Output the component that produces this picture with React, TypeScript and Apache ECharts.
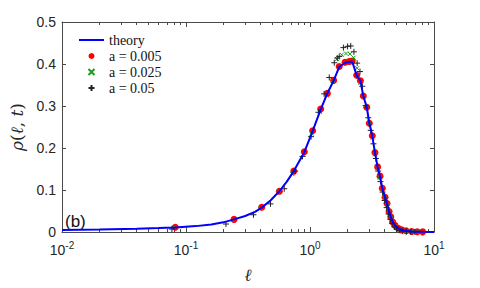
import React, { useEffect, useRef } from "react";
import * as echarts from "echarts";

const theoryL = [0.01, 0.02, 0.04, 0.06, 0.082, 0.12, 0.16, 0.2, 0.244, 0.3, 0.36, 0.408, 0.48, 0.566, 0.65, 0.74, 0.9, 1.05, 1.22, 1.38, 1.55, 1.72, 1.92, 2.07, 2.19, 2.38, 2.55, 2.69, 2.87, 3.01, 3.18, 3.34, 3.51, 3.67, 3.83, 4.03, 4.18, 4.34, 4.48, 4.64, 4.84, 5.15, 5.49, 5.95, 6.6, 7.3, 8.1, 10];
const theoryRho = [0.005, 0.006, 0.008, 0.0095, 0.011, 0.014, 0.018, 0.023, 0.03, 0.038, 0.048, 0.058, 0.075, 0.097, 0.12, 0.145, 0.19, 0.24, 0.292, 0.33, 0.36, 0.393, 0.403, 0.405, 0.406, 0.373, 0.36, 0.324, 0.297, 0.259, 0.229, 0.189, 0.155, 0.133, 0.104, 0.083, 0.068, 0.049, 0.036, 0.024, 0.016, 0.009, 0.005, 0.003, 0.001, 0.0007, 0.0003, 0];

const redL = [0.082, 0.244, 0.408, 0.566, 0.74, 0.9, 1.05, 1.22, 1.38, 1.55, 1.72, 1.92, 2.07, 2.19, 2.38, 2.55, 2.69, 2.87, 3.01, 3.18, 3.34, 3.51, 3.67, 3.83, 4.03, 4.18, 4.34, 4.48, 4.64, 4.84, 5.15, 5.49, 5.95, 6.61, 7.33, 8.11];
const redRho = [0.0115, 0.03, 0.059, 0.097, 0.145, 0.191, 0.241, 0.293, 0.33, 0.361, 0.394, 0.404, 0.406, 0.407, 0.373, 0.36, 0.324, 0.297, 0.259, 0.229, 0.189, 0.155, 0.133, 0.104, 0.0825, 0.068, 0.049, 0.036, 0.024, 0.016, 0.009, 0.005, 0.003, 0.001, 0.0007, 0.0003];

const greenL = [0.08, 0.24, 0.4, 0.56, 0.72, 0.88, 1.03, 1.2, 1.36, 1.52, 1.65, 1.8, 1.95, 2.1, 2.25, 2.4, 2.55, 2.7, 2.85, 3.0, 3.2, 3.35, 3.5, 3.65, 3.8, 4.0, 4.2, 4.35, 4.5, 4.7, 4.9, 5.2, 5.5, 6.0, 6.6, 7.3];
const greenRho = [0.011, 0.028, 0.057, 0.094, 0.138, 0.185, 0.234, 0.286, 0.325, 0.36, 0.412, 0.422, 0.425, 0.424, 0.415, 0.39, 0.355, 0.322, 0.295, 0.258, 0.225, 0.185, 0.152, 0.13, 0.103, 0.08, 0.063, 0.047, 0.034, 0.022, 0.014, 0.008, 0.004, 0.002, 0.001, 0.0005];

const blackL = [0.077, 0.21, 0.35, 0.48, 0.62, 0.76, 0.87, 1.02, 1.17, 1.3, 1.43, 1.57, 1.66, 1.72, 1.86, 2.01, 2.13, 2.26, 2.4, 2.53, 2.64, 2.81, 2.95, 3.09, 3.25, 3.4, 3.55, 3.7, 3.85, 4.0, 4.15, 4.3, 4.45, 4.6, 4.8, 5.0, 5.3, 5.6, 6.0, 6.5, 7.0];
const blackRho = [0.007, 0.019, 0.041, 0.067, 0.103, 0.145, 0.18, 0.227, 0.285, 0.329, 0.368, 0.403, 0.414, 0.418, 0.439, 0.442, 0.443, 0.429, 0.402, 0.382, 0.347, 0.301, 0.272, 0.242, 0.21, 0.175, 0.145, 0.12, 0.095, 0.075, 0.058, 0.043, 0.03, 0.02, 0.012, 0.007, 0.004, 0.002, 0.001, 0.0005, 0.0002];

const seriesNames = ["theory", "a = 0.005", "a = 0.025", "a = 0.05"];
const yTickLabels = ["0", "0.1", "0.2", "0.3", "0.4", "0.5"];
const xTickExponents = ["-2", "-1", "0", "1"];
const xMinorTicks = [0.02, 0.03, 0.04, 0.05, 0.06, 0.07, 0.08, 0.09, 0.2, 0.3, 0.4, 0.5, 0.6, 0.7, 0.8, 0.9, 2, 3, 4, 5, 6, 7, 8, 9];

const AXIS = "#4a4a4a";
const LABEL = "#262626";

export default function App() {
  const ref = useRef<HTMLDivElement>(null);
  useEffect(() => {
    if (!ref.current) return;
    const chart = echarts.init(ref.current, null, { renderer: "svg" });
    const pair = (xs: number[], ys: number[]) => xs.map((x, i) => [x, ys[i]]);
    const baseX = {
      type: "log" as const,
      logBase: 10,
      min: 0.01,
      max: 10,
      splitLine: { show: false },
      axisLine: { show: true, lineStyle: { color: AXIS, width: 1 } },
    };
    const baseY = {
      type: "value" as const,
      min: 0,
      max: 0.5,
      interval: 0.1,
      splitLine: { show: false },
      axisLine: { show: true, lineStyle: { color: AXIS, width: 1 } },
    };
    chart.setOption({
      animation: false,
      backgroundColor: "#fff",
      grid: { left: 62, right: 46, top: 22, bottom: 51 },
      legend: {
        orient: "vertical",
        left: 73,
        top: 28,
        itemWidth: 25,
        itemHeight: 6,
        itemGap: 2,
        data: [
          { name: seriesNames[0], itemStyle: { opacity: 0 } },
          seriesNames[1],
          seriesNames[2],
          seriesNames[3],
        ],
        textStyle: { fontFamily: "Liberation Serif", fontSize: 14, color: "#111" },
      },
      xAxis: [
        {
          ...baseX,
          position: "bottom",
          axisTick: { show: true, inside: true, length: 5, lineStyle: { color: AXIS } },
          axisLabel: {
            margin: 8,
            color: LABEL,
            formatter: (v: number, i: number) => `{b|10}{e|${xTickExponents[i]}}`,
            rich: {
              b: { fontFamily: "Liberation Sans", fontSize: 14, color: LABEL },
              e: { fontFamily: "Liberation Sans", fontSize: 10, color: LABEL, padding: [0, 0, 10, 0] },
            },
          },
          name: "ℓ",
          nameLocation: "middle",
          nameGap: 34,
          nameTextStyle: { fontFamily: "DejaVu Serif", fontStyle: "italic", fontSize: 17, color: LABEL },
        },
        {
          ...baseX,
          position: "bottom",
          axisLine: { show: false },
          axisTick: { show: true, inside: true, length: 3, customValues: xMinorTicks, lineStyle: { color: AXIS } },
          axisLabel: { show: false },
        },
        {
          ...baseX,
          position: "top",
          axisTick: { show: true, inside: true, length: 5, lineStyle: { color: AXIS } },
          axisLabel: { show: false },
        },
        {
          ...baseX,
          position: "top",
          axisLine: { show: false },
          axisTick: { show: true, inside: true, length: 3, customValues: xMinorTicks, lineStyle: { color: AXIS } },
          axisLabel: { show: false },
        },
      ],
      yAxis: [
        {
          ...baseY,
          position: "left",
          axisTick: { show: true, inside: true, length: 4, lineStyle: { color: AXIS } },
          axisLabel: {
            margin: 6,
            fontFamily: "Liberation Sans",
            fontSize: 14,
            color: LABEL,
            formatter: (v: number, i: number) => yTickLabels[i],
          },
          name: "{i|ρ}{r|(}{i|ℓ}{r|, }{i|t}{r|)}",
          nameLocation: "middle",
          nameRotate: 90,
          nameGap: 31,
          nameTextStyle: {
            rich: {
              i: { fontFamily: "DejaVu Serif", fontStyle: "italic", fontSize: 17, color: LABEL },
              r: { fontFamily: "DejaVu Serif", fontSize: 17, color: LABEL },
            },
          },
        },
        {
          ...baseY,
          position: "right",
          axisTick: { show: true, inside: true, length: 4, lineStyle: { color: AXIS } },
          axisLabel: { show: false },
        },
      ],
      graphic: [
        {
          type: "text",
          left: 65,
          top: 213,
          style: { text: "(b)", fontFamily: "Liberation Sans", fontSize: 17, fill: "#111" },
        },
      ],
      series: [
        {
          name: seriesNames[0],
          type: "line",
          data: pair(theoryL, theoryRho),
          showSymbol: false,
          symbol: "none",
          lineStyle: { color: "#0000ff", width: 2 },
          itemStyle: { color: "#0000ff" },
        },
        {
          name: seriesNames[1],
          type: "scatter",
          data: pair(redL, redRho),
          symbol: "circle",
          symbolSize: 7,
          itemStyle: { color: "#ff0000", opacity: 1 },
        },
        {
          name: seriesNames[2],
          type: "scatter",
          data: pair(greenL, greenRho),
          symbol: "path://M0,0L10,10M10,0L0,10",
          symbolSize: 4,
          itemStyle: { color: "rgba(0,0,0,0)", borderColor: "#1e9a1e", borderWidth: 1, opacity: 1 },
        },
        {
          name: seriesNames[3],
          type: "scatter",
          data: pair(blackL, blackRho),
          symbol: "path://M5,0L5,10M0,5L10,5",
          symbolSize: 6,
          itemStyle: { color: "rgba(0,0,0,0)", borderColor: "#222", borderWidth: 1, opacity: 1 },
        },
      ],
    });
    return () => chart.dispose();
  }, []);
  return (
    <div
      ref={ref}
      style={{ position: "fixed", left: 0, top: 0, width: 480, height: 288, background: "#fff" }}
    />
  );
}
